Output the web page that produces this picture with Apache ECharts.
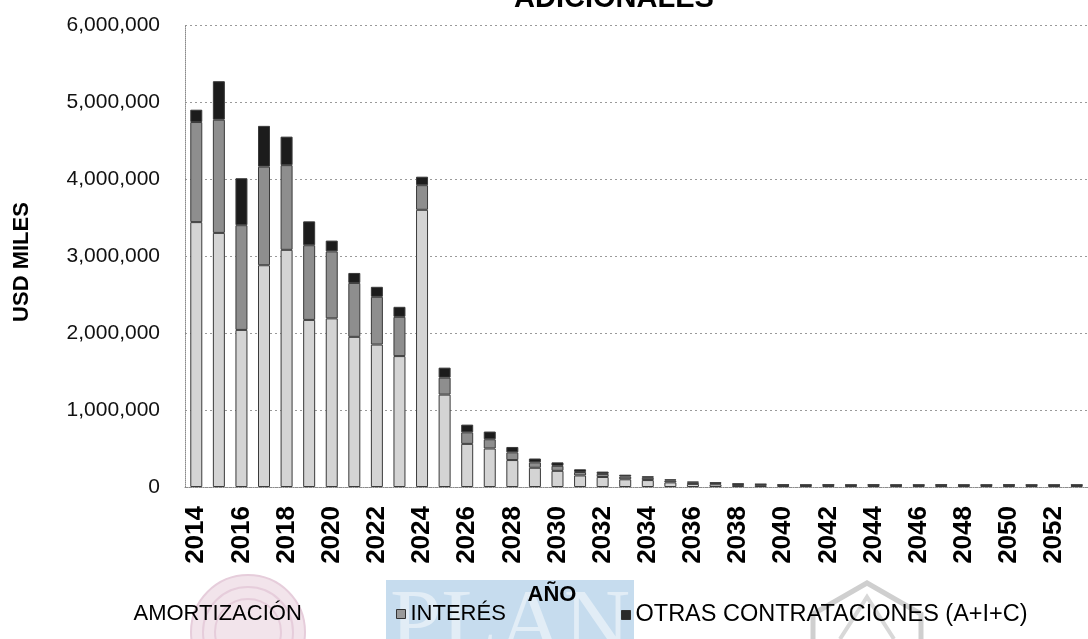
<!DOCTYPE html>
<html>
<head>
<meta charset="utf-8">
<script src="https://cdn.jsdelivr.net/npm/echarts@6/dist/echarts.min.js"></script>
<style>
  html, body { margin: 0; padding: 0; background: #ffffff; }
  #chart { width: 1088px; height: 639px; }
</style>
</head>
<body>
<div id="chart"></div>
<script>
// Años del servicio de la deuda
const years = ['2014','2015','2016','2017','2018','2019','2020','2021','2022','2023',
               '2024','2025','2026','2027','2028','2029','2030','2031','2032','2033',
               '2034','2035','2036','2037','2038','2039','2040','2041','2042','2043',
               '2044','2045','2046','2047','2048','2049','2050','2051','2052','2053'];

// Amortización (USD miles)
const amortizacion = [3440000, 3300000, 2040000, 2880000, 3080000, 2170000, 2190000, 1950000, 1850000, 1700000,
                      3600000, 1200000, 560000, 500000, 350000, 250000, 210000, 150000, 130000, 100000,
                      90000, 60000, 40000, 35000, 25000, 23000, 18000, 17000, 18000, 17000,
                      18000, 17000, 17000, 18000, 17000, 17000, 18000, 17000, 17000, 17000];

// Interés (USD miles)
const interes = [1300000, 1470000, 1360000, 1280000, 1100000, 970000, 870000, 700000, 620000, 510000,
                 320000, 220000, 150000, 120000, 100000, 70000, 65000, 45000, 40000, 35000,
                 30000, 25000, 18000, 15000, 12000, 10000, 8000, 8000, 8000, 8000,
                 8000, 8000, 8000, 8000, 8000, 8000, 8000, 8000, 8000, 8000];

// Otras contrataciones (A+I+C) (USD miles)
const otras = [160000, 500000, 610000, 530000, 370000, 310000, 140000, 130000, 130000, 130000,
               110000, 130000, 100000, 100000, 70000, 50000, 45000, 35000, 30000, 25000,
               20000, 15000, 12000, 10000, 8000, 7000, 5000, 5000, 5000, 5000,
               5000, 5000, 5000, 5000, 5000, 5000, 5000, 5000, 5000, 5000];

const seriesNames = ['AMORTIZACIÓN', 'INTERÉS', 'OTRAS CONTRATACIONES (A+I+C)'];
const seriesColors = ['#d4d4d4', '#8e8e8e', '#1c1c1c'];

const yMin = 0;
const yMax = 6000000;
const yStep = 1000000;

const FONT = '"Liberation Sans", Arial, sans-serif';

const chart = echarts.init(document.getElementById('chart'), null, { renderer: 'canvas' });

function barSeries(name, data, color) {
  return {
    name: name,
    type: 'bar',
    stack: 'servicio',
    data: data,
    barWidth: 12,
    itemStyle: { color: color, borderColor: '#3a3a3a', borderWidth: 1 },
    emphasis: { disabled: true }
  };
}

function legendFor(name, left, iconColor, fontSize) {
  return {
    data: [{ name: name, itemStyle: { color: iconColor, borderColor: iconColor === 'transparent' ? 'transparent' : '#333', borderWidth: 1 } }],
    left: left,
    top: 603,
    padding: 0,
    itemWidth: 9,
    itemHeight: 9,
    icon: 'rect',
    selectedMode: false,
    textStyle: { fontFamily: FONT, fontSize: fontSize, color: '#000', padding: [0, 0, 0, 0] }
  };
}

const option = {
  backgroundColor: '#ffffff',
  animation: false,
  grid: { left: 185, right: -15, top: 25, bottom: 152 },
  legend: [
    legendFor(seriesNames[0], 119, 'transparent', 22),
    legendFor(seriesNames[1], 396, '#9a9a9a', 22),
    legendFor(seriesNames[2], 621, '#2a2a2a', 23.5)
  ],
  xAxis: {
    type: 'category',
    data: years,
    axisLine: { show: true, lineStyle: { color: '#8a8a8a', type: 'dotted', width: 1 } },
    axisTick: { show: false },
    axisLabel: {
      rotate: 90,
      interval: 1,
      margin: 19,
      fontFamily: FONT,
      fontWeight: 'bold',
      fontSize: 26,
      color: '#000'
    }
  },
  yAxis: {
    type: 'value',
    min: yMin,
    max: yMax,
    interval: yStep,
    axisLine: { show: true, lineStyle: { color: '#8a8a8a', type: 'dotted', width: 1 } },
    axisTick: { show: false },
    splitLine: { show: true, lineStyle: { color: '#9a9a9a', type: [2, 3], width: 1 } },
    axisLabel: {
      margin: 25,
      fontFamily: FONT,
      fontSize: 21,
      color: '#111',
      formatter: v => v.toLocaleString('en-US')
    }
  },
  series: [
    barSeries(seriesNames[0], amortizacion, seriesColors[0]),
    barSeries(seriesNames[1], interes, seriesColors[1]),
    barSeries(seriesNames[2], otras, seriesColors[2])
  ],
  graphic: [
    // sello rosado de fondo
    { type: 'circle', z: -10, silent: true, shape: { cx: 248, cy: 632, r: 57 },
      style: { fill: '#f2e4eb', stroke: '#e6cddb', lineWidth: 2 } },
    { type: 'circle', z: -10, silent: true, shape: { cx: 248, cy: 632, r: 45 },
      style: { fill: 'none', stroke: '#e6cddb', lineWidth: 2 } },
    { type: 'circle', z: -10, silent: true, shape: { cx: 248, cy: 632, r: 33 },
      style: { fill: 'none', stroke: '#e6cddb', lineWidth: 2 } },
    // bloque azul con la palabra PLAN
    { type: 'rect', z: -10, silent: true, shape: { x: 386, y: 580, width: 248, height: 59 },
      style: { fill: '#c6dcee' } },
    { type: 'text', z: -9, silent: true, x: 390, y: 582,
      style: { text: 'PLAN', fill: '#e2edf6', font: '92px "Liberation Serif", "Times New Roman", serif',
               verticalAlign: 'top', align: 'left' } },
    // silueta gris de fondo
    { type: 'polyline', z: -10, silent: true,
      shape: { points: [[813, 639], [813, 614], [867, 583], [921, 614], [921, 639]] },
      style: { fill: 'none', stroke: '#cfcfcf', lineWidth: 5 } },
    { type: 'polyline', z: -10, silent: true,
      shape: { points: [[840, 639], [867, 597], [894, 639]] },
      style: { fill: 'none', stroke: '#d8d8d8', lineWidth: 4 } },
    // título (recortado en el borde superior)
    { type: 'text', x: 614, y: -1,
      style: { text: 'ADICIONALES', fill: '#000', font: 'bold 29px ' + FONT,
               align: 'center', verticalAlign: 'middle' } },
    // título del eje Y
    { type: 'text', x: 22, y: 262, rotation: Math.PI / 2,
      style: { text: 'USD MILES', fill: '#000', font: 'bold 22px ' + FONT,
               align: 'center', verticalAlign: 'middle' } },
    // título del eje X
    { type: 'text', x: 552, y: 595,
      style: { text: 'AÑO', fill: '#000', font: 'bold 22px ' + FONT,
               align: 'center', verticalAlign: 'middle' } }
  ]
};

chart.setOption(option);
</script>
</body>
</html>
